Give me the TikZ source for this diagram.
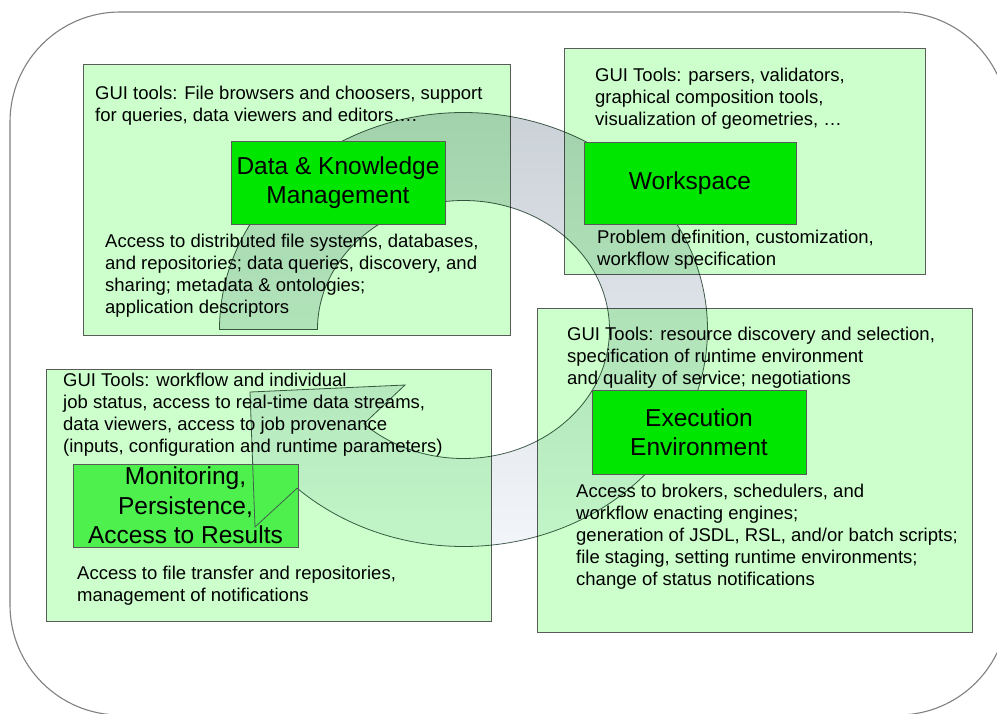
\documentclass[tikz,border=0pt]{standalone}
\usepackage{fontspec}
\setmainfont{Liberation Sans}
\definecolor{panelfill}{HTML}{CCFFCC}
\definecolor{panelline}{HTML}{5A5A5A}
\definecolor{boxfill}{HTML}{00E600}
\definecolor{boxfillB}{HTML}{4DF04D}
\definecolor{bandtop}{RGB}{203,210,215}
\definecolor{bandbot}{RGB}{242,245,250}
\definecolor{bandline}{RGB}{70,95,80}
\begin{document}
\begin{tikzpicture}[x=1pt,y=-1pt,
  panel/.style={draw=panelline, line width=0.9pt, fill=panelfill},
  bigbox/.style={draw=panelline, line width=0.9pt, fill=boxfill, inner sep=0pt, align=center, font=\fontsize{24.5}{29.5}\selectfont},
  note/.style={anchor=base west, align=left, inner sep=0pt, font=\fontsize{18.5}{22}\selectfont},
  band/.style={blend mode=multiply, top color=bandtop, bottom color=bandbot, draw=bandline, line width=0.8pt},
  bandedge/.style={draw=bandline, line width=0.8pt}]
\useasboundingbox (0,0) rectangle (997,713);
\clip (0,0) rectangle (997,713);
% outer frame
\draw[draw=gray, line width=1.1pt, rounded corners=110pt] (10,12) rectangle (1008,715);
% panels
\filldraw[panel] (83,64) rectangle (510,335);
\filldraw[panel] (564,48) rectangle (925,274);
\filldraw[panel] (537,308) rectangle (972,632);
\filldraw[panel] (46,369) rectangle (491,621);
% circular arrow band
\path[band] (219.5,329.5) arc[start angle=180, end angle=493, x radius=244, y radius=217]
  -- (255,527) -- (250,392) -- (405,385) -- (363.9,423.85)
  arc[start angle=493, end angle=180, x radius=146, y radius=129] -- cycle;
% monitoring box, with the arrow outline showing through it
\node[bigbox, fill=boxfillB, minimum width=225pt, minimum height=83pt] (mon) at (185.5,505.5) {Monitoring,\\Persistence,\\Access to Results};
\begin{scope}
\clip (mon.north west) rectangle (mon.south east);
\path[bandedge] (219.5,329.5) arc[start angle=180, end angle=493, x radius=244, y radius=217]
  -- (255,527) -- (250,392) -- (405,385) -- (363.9,423.85);
\end{scope}
% main boxes
\node[bigbox, minimum width=214pt, minimum height=83pt] (dkm) at (338,182.5) {Data \& Knowledge\\Management};
\node[bigbox, minimum width=212pt, minimum height=82pt] (ws) at (690,183) {Workspace};
\node[bigbox, minimum width=214pt, minimum height=84pt] (ex) at (699,432) {Execution\\Environment};
% texts (anchor = baseline of the last line)
\node[note] (dkmtop) at (95,121) {GUI tools: File browsers and choosers, support\\for queries, data viewers and editors….};
\node[note] (dkmbot) at (105,313) {Access to distributed file systems, databases,\\and repositories; data queries, discovery, and\\sharing; metadata \& ontologies;\\application descriptors};
\node[note] (wstop) at (595,125) {GUI Tools: parsers, validators,\\graphical composition tools,\\visualization of geometries, …};
\node[note] (wsbot) at (597,265) {Problem definition, customization,\\workflow specification};
\node[note] (extop) at (567,384) {GUI Tools: resource discovery and selection,\\specification of runtime environment\\and quality of service; negotiations};
\node[note] (exbot) at (576,585) {Access to brokers, schedulers, and\\workflow enacting engines;\\generation of JSDL, RSL, and/or batch scripts;\\file staging, setting runtime environments;\\change of status notifications};
\node[note] (montop) at (63,452) {GUI Tools: workflow and individual\\job status, access to real-time data streams,\\data viewers, access to job provenance\\(inputs, configuration and runtime parameters)};
\node[note] (monbot) at (77,601) {Access to file transfer and repositories,\\management of notifications};
\end{tikzpicture}
\end{document}
